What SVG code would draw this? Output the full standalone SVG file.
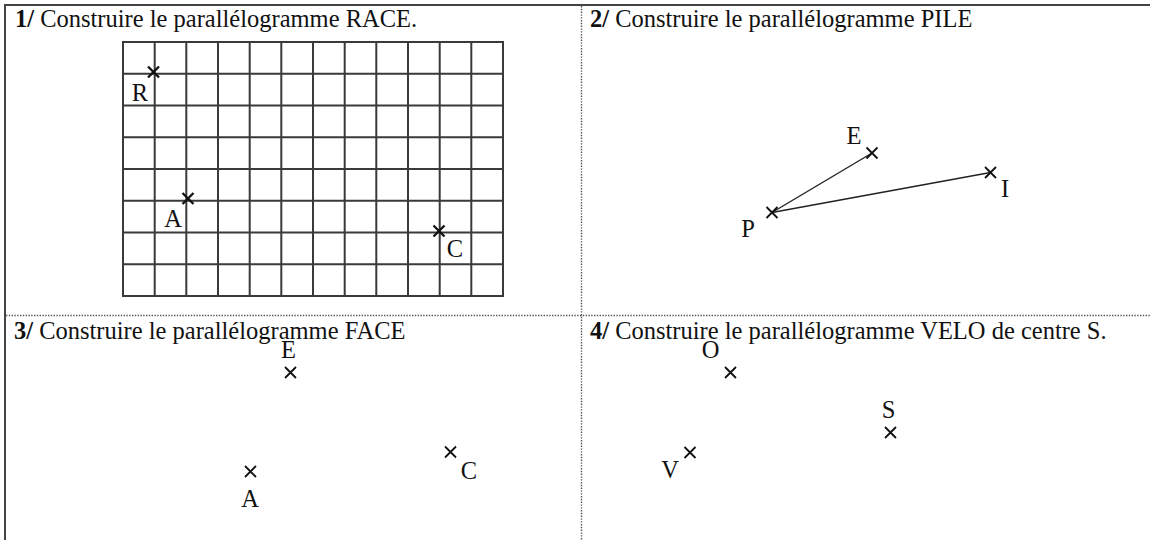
<svg xmlns="http://www.w3.org/2000/svg" width="1150" height="540" viewBox="0 0 1150 540">
<style>
.t{font-family:"Liberation Serif","Times New Roman",serif;font-size:24.5px;fill:#111}
.b{font-weight:bold}
.lbl{font-family:"Liberation Serif","Times New Roman",serif;font-size:24.5px;fill:#111;text-anchor:middle}
.g{stroke:#3a3a3a;stroke-width:2;fill:none}
.x{stroke:#111;stroke-width:1.8;fill:none}
.xb{stroke:#111;stroke-width:2.3;fill:none}
.dot{stroke:#555;stroke-width:1.4;stroke-dasharray:1.4 1.4;fill:none}
.seg{stroke:#222;stroke-width:1.4;fill:none}
</style>
<defs>
<path id="cross" d="M-5.5,-5.5L5.5,5.5M-5.5,5.5L5.5,-5.5"/>
</defs>
<rect width="1150" height="540" fill="#fff"/>
<g id="frame">
<line x1="5" y1="5" x2="1150" y2="5" stroke="#444" stroke-width="2"/>
<line x1="5" y1="4" x2="5" y2="540" stroke="#444" stroke-width="2"/>
<line class="dot" x1="581.5" y1="6" x2="581.5" y2="540"/>
<line class="dot" x1="6" y1="315.5" x2="1150" y2="315.5"/>
</g>
<g id="panel1">
<text class="t" x="15" y="27"><tspan class="b">1/</tspan> Construire le parallélogramme RACE.</text>
<g id="grid" class="g">
<rect x="123" y="42" width="380" height="254"/>
<path d="M154.7,42V296M186.3,42V296M218,42V296M249.7,42V296M281.3,42V296M313,42V296M344.7,42V296M376.3,42V296M408,42V296M439.7,42V296M471.3,42V296"/>
<path d="M123,73.75H503M123,105.5H503M123,137.25H503M123,169H503M123,200.75H503M123,232.5H503M123,264.25H503"/>
</g>
<g id="R1"><use href="#cross" class="xb" transform="translate(153.5,72)"/><text class="lbl" x="140" y="101">R</text></g>
<g id="A1"><use href="#cross" class="xb" transform="translate(188,198.5)"/><text class="lbl" x="173" y="227">A</text></g>
<g id="C1"><use href="#cross" class="xb" transform="translate(439,231)"/><text class="lbl" x="455" y="257">C</text></g>
</g>
<g id="panel2">
<text class="t" x="590" y="27"><tspan class="b">2/</tspan> Construire le parallélogramme PILE</text>
<g id="connectors">
<line class="seg" x1="772" y1="212.5" x2="872" y2="153"/>
<line class="seg" x1="772" y1="212.5" x2="990.5" y2="172.5"/>
</g>
<g id="P2"><use href="#cross" class="x" transform="translate(772,212.5)"/><text class="lbl" x="748" y="237">P</text></g>
<g id="E2"><use href="#cross" class="x" transform="translate(872,153)"/><text class="lbl" x="854" y="144">E</text></g>
<g id="I2"><use href="#cross" class="x" transform="translate(990.5,172.5)"/><text class="lbl" x="1005" y="197">I</text></g>
</g>
<g id="panel3">
<text class="t" x="14" y="339"><tspan class="b">3/</tspan> Construire le parallélogramme FACE</text>
<g id="E3"><use href="#cross" class="x" transform="translate(290.5,372.5)"/><text class="lbl" x="288.5" y="358">E</text></g>
<g id="A3"><use href="#cross" class="x" transform="translate(250.5,471.5)"/><text class="lbl" x="250" y="507">A</text></g>
<g id="C3"><use href="#cross" class="x" transform="translate(450.5,452)"/><text class="lbl" x="469" y="479">C</text></g>
</g>
<g id="panel4">
<text class="t" x="590" y="339"><tspan class="b">4/</tspan> Construire le parallélogramme VELO de centre S.</text>
<g id="O4"><use href="#cross" class="x" transform="translate(730.5,372.5)"/><text class="lbl" x="710.5" y="358">O</text></g>
<g id="S4"><use href="#cross" class="x" transform="translate(890.5,432.5)"/><text class="lbl" x="888.5" y="418">S</text></g>
<g id="V4"><use href="#cross" class="x" transform="translate(690,452.5)"/><text class="lbl" x="670" y="478">V</text></g>
</g>
</svg>
